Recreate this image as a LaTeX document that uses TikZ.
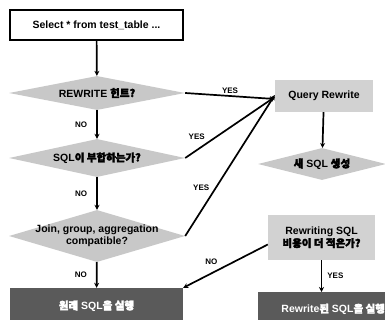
\documentclass[tikz,border=0pt]{standalone}
\usepackage{fontspec}
\setmainfont{Liberation Sans}
\newfontfamily\kr{Noto Sans CJK KR}[FakeBold=3]
\usetikzlibrary{shapes.geometric,arrows.meta}
\definecolor{lgray}{HTML}{C8C8C8}
\definecolor{bgray}{HTML}{D2D2D2}
\definecolor{dgray}{HTML}{5A5A5A}
\tikzset{
  txt/.style={font=\fontsize{10.5}{12.5}\selectfont\bfseries, align=center},
  whitebox/.style={txt, draw=black, line width=1.6pt, fill=white, inner sep=0pt},
  decision/.style={diamond, fill=lgray, aspect=6, inner sep=0pt},
  graybox/.style={txt, fill=bgray, inner sep=0pt},
  darkbox/.style={txt, fill=dgray, text=white, inner sep=0pt},
  flow/.style={line width=1.7pt, -{Stealth[length=5pt,width=5pt]}},
  lbl/.style={font=\fontsize{8}{9}\selectfont\bfseries, inner sep=1pt}
}
\begin{document}
\begin{tikzpicture}[x=1pt,y=-1pt]
\useasboundingbox (0,0) rectangle (385,320);
\clip (0,0) rectangle (385,320);
\node[whitebox, minimum width=173pt, minimum height=30pt] (sel) at (96.5,25) {Select * from test\_table ...};
\node[decision, minimum width=176pt, minimum height=34pt] (d1) at (97,93) {};
\node[txt] (d1t) at (d1) {REWRITE {\kr 힌트?}};
\node[decision, minimum width=176pt, minimum height=38pt] (d2) at (97,158) {};
\node[txt] (d2t) at (d2) {SQL{\kr 이 부합하는가?}};
\node[decision, minimum width=176pt, minimum height=52pt] (d3) at (97,236) {};
\node[txt] (d3t) at (d3) {Join, group, aggregation\\compatible?};
\node[darkbox, minimum width=173pt, minimum height=36pt] (orig) at (96.5,306) {{\kr 원래} SQL{\kr 을 실행}};
\node[graybox, minimum width=98pt, minimum height=32pt] (qr) at (324,96) {Query Rewrite};
\node[decision, minimum width=128pt, minimum height=32pt] (nsql) at (322,164) {};
\node[txt] (nsqlt) at (nsql) {{\kr 새} SQL {\kr 생성}};
\node[graybox, minimum width=107pt, minimum height=45pt] (cost) at (321.5,237.5) {Rewriting SQL\\{\kr 비용이 더 적은가?}};
\node[darkbox, minimum width=150pt, minimum height=34pt, anchor=north west] (rw) at (258,292) {Rewrite{\kr 된} SQL{\kr 을 실행}};

\draw[flow] (sel) -- (d1);
\draw[flow] (d1) -- node[lbl, left=8pt] {NO} (d2);
\draw[flow] (d2) -- node[lbl, left=8pt] {NO} (d3);
\draw[flow] (d3) -- node[lbl, left=8pt] {NO} (orig);
\draw[flow] (d1.east) -- node[lbl, above=1pt] {YES} ([yshift=-3pt]qr.west);
\draw[flow] (d2.east) -- node[lbl, pos=0.25, above left=1pt] {YES} ([yshift=-1pt]qr.west);
\draw[flow] (d3.east) -- node[lbl, pos=0.3, above left=1pt] {YES} ([yshift=1pt]qr.west);
\draw[flow] (qr) -- (nsql);
\draw[flow] ([yshift=-7pt]cost.west) -- node[lbl, pos=0.55, above left=2pt] {NO} (orig.north east);
\draw[flow] (cost) -- node[lbl, right=4pt] {YES} (cost |- rw.north);
\end{tikzpicture}
\end{document}
